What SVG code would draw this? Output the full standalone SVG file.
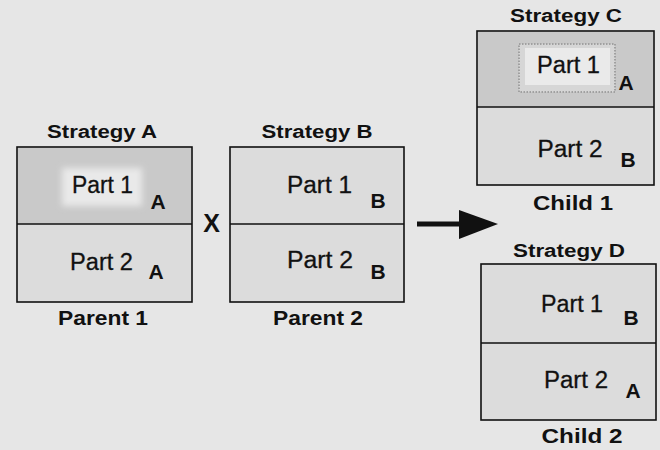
<svg xmlns="http://www.w3.org/2000/svg" width="660" height="450" viewBox="0 0 660 450">
<defs>
<style>
.bg{fill:#e6e6e6}
.box{fill:#dcdcdc;stroke:#111;stroke-width:1.6}
.dark{fill:#c9c9c9}
.div{stroke:#111;stroke-width:1.6}
.title{font-family:"Liberation Sans",Arial,sans-serif;font-weight:bold;font-size:18px;fill:#111;text-anchor:middle}
.cap{font-family:"Liberation Sans",Arial,sans-serif;font-weight:bold;font-size:20.5px;fill:#111;text-anchor:middle}
.part{font-family:"Liberation Sans",Arial,sans-serif;font-size:23px;fill:#111;text-anchor:middle;stroke:#111;stroke-width:0.3}
.tag{font-family:"Liberation Sans",Arial,sans-serif;font-weight:bold;font-size:21px;fill:#111;text-anchor:middle}
</style>
<filter id="blur" x="-20%" y="-30%" width="140%" height="160%"><feGaussianBlur stdDeviation="3"/></filter>
</defs>
<rect class="bg" x="0" y="0" width="660" height="450"/>

<g id="strategyA">
<text class="title" x="102" y="138" textLength="110" lengthAdjust="spacingAndGlyphs">Strategy A</text>
<rect class="box" x="17" y="147" width="175" height="155"/>
<rect class="dark" x="18" y="148" width="173" height="76"/>
<rect x="62" y="168" width="80" height="38" fill="#e9e9e9" filter="url(#blur)"/>
<line class="div" x1="17" y1="224" x2="192" y2="224"/>
<text class="part" x="102.5" y="193" textLength="61" lengthAdjust="spacingAndGlyphs">Part 1</text>
<text class="tag" x="158" y="208.5">A</text>
<text class="part" x="101.5" y="270" textLength="63" lengthAdjust="spacingAndGlyphs">Part 2</text>
<text class="tag" x="156" y="278.5">A</text>
<text class="cap" x="103" y="325" textLength="90" lengthAdjust="spacingAndGlyphs">Parent 1</text>
</g>

<g id="cross">
<text x="211.5" y="232" font-family="Liberation Sans,Arial,sans-serif" font-weight="bold" font-size="25" fill="#111" text-anchor="middle">X</text>
</g>

<g id="strategyB">
<text class="title" x="317" y="138" textLength="111" lengthAdjust="spacingAndGlyphs">Strategy B</text>
<rect class="box" x="230" y="147" width="174" height="155"/>
<line class="div" x1="230" y1="224" x2="404" y2="224"/>
<text class="part" x="319.5" y="193" textLength="65" lengthAdjust="spacingAndGlyphs">Part 1</text>
<text class="tag" x="378" y="207.5">B</text>
<text class="part" x="320" y="268" textLength="66" lengthAdjust="spacingAndGlyphs">Part 2</text>
<text class="tag" x="378" y="278.5">B</text>
<text class="cap" x="318" y="325" textLength="90" lengthAdjust="spacingAndGlyphs">Parent 2</text>
</g>

<g id="strategyC">
<text class="title" x="566" y="22" textLength="112" lengthAdjust="spacingAndGlyphs">Strategy C</text>
<rect class="box" x="477" y="31" width="177" height="154"/>
<rect class="dark" x="478" y="32" width="175" height="75"/>
<rect x="519" y="44" width="96" height="48" fill="#d6d6d6" stroke="#a0a0a0" stroke-width="2" stroke-dasharray="1.5 1.5"/>
<rect x="525" y="48" width="85" height="37" fill="#eaeaea"/>
<line class="div" x1="477" y1="107" x2="654" y2="107"/>
<text class="part" x="568.5" y="73" textLength="63" lengthAdjust="spacingAndGlyphs">Part 1</text>
<text class="tag" x="626" y="90">A</text>
<text class="part" x="570" y="157" textLength="65" lengthAdjust="spacingAndGlyphs">Part 2</text>
<text class="tag" x="628" y="167">B</text>
<text class="cap" x="573" y="210" textLength="80" lengthAdjust="spacingAndGlyphs">Child 1</text>
</g>

<g id="strategyD">
<text class="title" x="569" y="257" textLength="112" lengthAdjust="spacingAndGlyphs">Strategy D</text>
<rect class="box" x="481" y="264" width="175" height="156"/>
<line class="div" x1="481" y1="343" x2="656" y2="343"/>
<text class="part" x="572" y="312" textLength="62" lengthAdjust="spacingAndGlyphs">Part 1</text>
<text class="tag" x="631" y="325">B</text>
<text class="part" x="576" y="388" textLength="64" lengthAdjust="spacingAndGlyphs">Part 2</text>
<text class="tag" x="633" y="398">A</text>
<text class="cap" x="582" y="443" textLength="81" lengthAdjust="spacingAndGlyphs">Child 2</text>
</g>

<g id="connectors">
<line x1="417" y1="224" x2="462" y2="224" stroke="#111" stroke-width="5"/>
<polygon points="459,210 498,224 459,239" fill="#111"/>
</g>
</svg>
